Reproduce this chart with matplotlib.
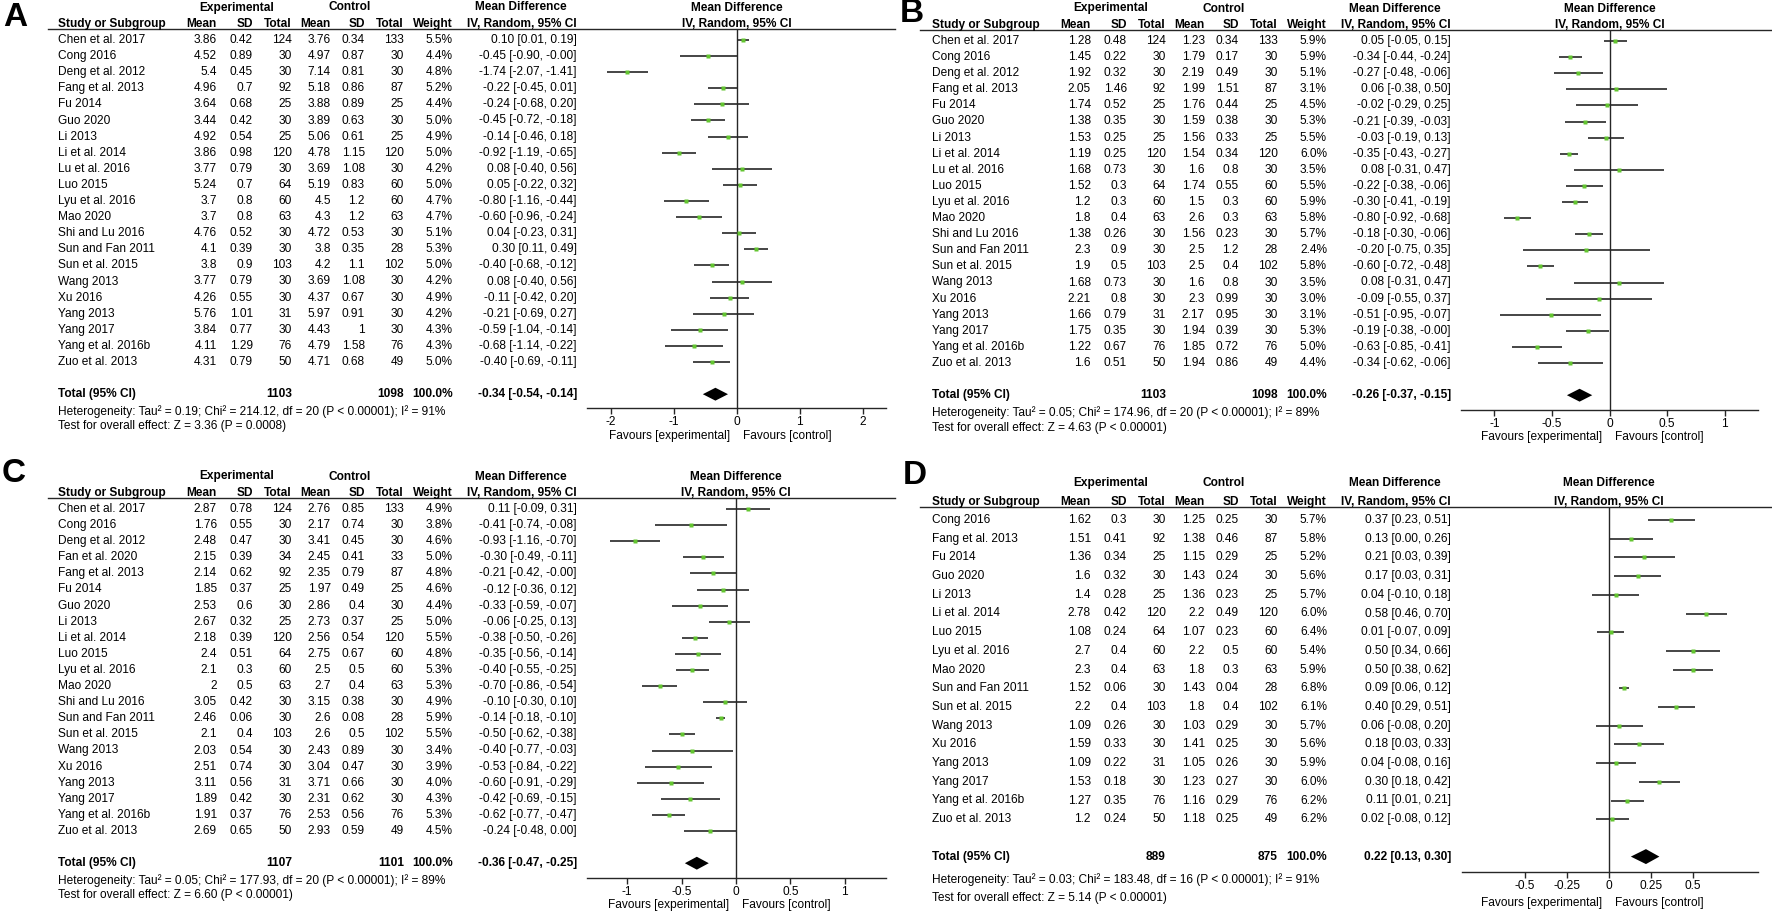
import numpy as np
import matplotlib.pyplot as plt

plt.rcParams['font.family'] = ['Liberation Sans', 'DejaVu Sans']

# ---------------- data ----------------
study_ab = ['Chen et al. 2017', 'Cong 2016', 'Deng et al. 2012', 'Fang et al. 2013', 'Fu 2014',
            'Guo 2020', 'Li 2013', 'Li et al. 2014', 'Lu et al. 2016', 'Luo 2015',
            'Lyu et al. 2016', 'Mao 2020', 'Shi and Lu 2016', 'Sun and Fan 2011',
            'Sun et al. 2015', 'Wang 2013', 'Xu 2016', 'Yang 2013', 'Yang 2017',
            'Yang et al. 2016b', 'Zuo et al. 2013']
study_c = ['Chen et al. 2017', 'Cong 2016', 'Deng et al. 2012', 'Fan et al. 2020', 'Fang et al. 2013',
           'Fu 2014', 'Guo 2020', 'Li 2013', 'Li et al. 2014', 'Luo 2015',
           'Lyu et al. 2016', 'Mao 2020', 'Shi and Lu 2016', 'Sun and Fan 2011',
           'Sun et al. 2015', 'Wang 2013', 'Xu 2016', 'Yang 2013', 'Yang 2017',
           'Yang et al. 2016b', 'Zuo et al. 2013']
study_d = ['Cong 2016', 'Fang et al. 2013', 'Fu 2014', 'Guo 2020', 'Li 2013', 'Li et al. 2014',
           'Luo 2015', 'Lyu et al. 2016', 'Mao 2020', 'Sun and Fan 2011', 'Sun et al. 2015',
           'Wang 2013', 'Xu 2016', 'Yang 2013', 'Yang 2017', 'Yang et al. 2016b', 'Zuo et al. 2013']

# panel A
a_exp_mean = [3.86, 4.52, 5.4, 4.96, 3.64, 3.44, 4.92, 3.86, 3.77, 5.24, 3.7, 3.7, 4.76, 4.1, 3.8, 3.77, 4.26, 5.76, 3.84, 4.11, 4.31]
a_exp_sd = [0.42, 0.89, 0.45, 0.7, 0.68, 0.42, 0.54, 0.98, 0.79, 0.7, 0.8, 0.8, 0.52, 0.39, 0.9, 0.79, 0.55, 1.01, 0.77, 1.29, 0.79]
a_exp_n = [124, 30, 30, 92, 25, 30, 25, 120, 30, 64, 60, 63, 30, 30, 103, 30, 30, 31, 30, 76, 50]
a_ctl_mean = [3.76, 4.97, 7.14, 5.18, 3.88, 3.89, 5.06, 4.78, 3.69, 5.19, 4.5, 4.3, 4.72, 3.8, 4.2, 3.69, 4.37, 5.97, 4.43, 4.79, 4.71]
a_ctl_sd = [0.34, 0.87, 0.81, 0.86, 0.89, 0.63, 0.61, 1.15, 1.08, 0.83, 1.2, 1.2, 0.53, 0.35, 1.1, 1.08, 0.67, 0.91, 1, 1.58, 0.68]
a_ctl_n = [133, 30, 30, 87, 25, 30, 25, 120, 30, 60, 60, 63, 30, 28, 102, 30, 30, 30, 30, 76, 49]
a_weight = [5.5, 4.4, 4.8, 5.2, 4.4, 5.0, 4.9, 5.0, 4.2, 5.0, 4.7, 4.7, 5.1, 5.3, 5.0, 4.2, 4.9, 4.2, 4.3, 4.3, 5.0]
a_md = [0.10, -0.45, -1.74, -0.22, -0.24, -0.45, -0.14, -0.92, 0.08, 0.05, -0.80, -0.60, 0.04, 0.30, -0.40, 0.08, -0.11, -0.21, -0.59, -0.68, -0.40]
a_lo = [0.01, -0.90, -2.07, -0.45, -0.68, -0.72, -0.46, -1.19, -0.40, -0.22, -1.16, -0.96, -0.23, 0.11, -0.68, -0.40, -0.42, -0.69, -1.04, -1.14, -0.69]
a_hi = [0.19, -0.004, -1.41, 0.01, 0.20, -0.18, 0.18, -0.65, 0.56, 0.32, -0.44, -0.24, 0.31, 0.49, -0.12, 0.56, 0.20, 0.27, -0.14, -0.22, -0.11]
a_total = [1103, 1098, -0.34, -0.54, -0.14]
a_het = 'Heterogeneity: Tau² = 0.19; Chi² = 214.12, df = 20 (P < 0.00001); I² = 91%'
a_test = 'Test for overall effect: Z = 3.36 (P = 0.0008)'

# panel B
b_exp_mean = [1.28, 1.45, 1.92, 2.05, 1.74, 1.38, 1.53, 1.19, 1.68, 1.52, 1.2, 1.8, 1.38, 2.3, 1.9, 1.68, 2.21, 1.66, 1.75, 1.22, 1.6]
b_exp_sd = [0.48, 0.22, 0.32, 1.46, 0.52, 0.35, 0.25, 0.25, 0.73, 0.3, 0.3, 0.4, 0.26, 0.9, 0.5, 0.73, 0.8, 0.79, 0.35, 0.67, 0.51]
b_exp_n = [124, 30, 30, 92, 25, 30, 25, 120, 30, 64, 60, 63, 30, 30, 103, 30, 30, 31, 30, 76, 50]
b_ctl_mean = [1.23, 1.79, 2.19, 1.99, 1.76, 1.59, 1.56, 1.54, 1.6, 1.74, 1.5, 2.6, 1.56, 2.5, 2.5, 1.6, 2.3, 2.17, 1.94, 1.85, 1.94]
b_ctl_sd = [0.34, 0.17, 0.49, 1.51, 0.44, 0.38, 0.33, 0.34, 0.8, 0.55, 0.3, 0.3, 0.23, 1.2, 0.4, 0.8, 0.99, 0.95, 0.39, 0.72, 0.86]
b_ctl_n = [133, 30, 30, 87, 25, 30, 25, 120, 30, 60, 60, 63, 30, 28, 102, 30, 30, 30, 30, 76, 49]
b_weight = [5.9, 5.9, 5.1, 3.1, 4.5, 5.3, 5.5, 6.0, 3.5, 5.5, 5.9, 5.8, 5.7, 2.4, 5.8, 3.5, 3.0, 3.1, 5.3, 5.0, 4.4]
b_md = [0.05, -0.34, -0.27, 0.06, -0.02, -0.21, -0.03, -0.35, 0.08, -0.22, -0.30, -0.80, -0.18, -0.20, -0.60, 0.08, -0.09, -0.51, -0.19, -0.63, -0.34]
b_lo = [-0.05, -0.44, -0.48, -0.38, -0.29, -0.39, -0.19, -0.43, -0.31, -0.38, -0.41, -0.92, -0.30, -0.75, -0.72, -0.31, -0.55, -0.95, -0.38, -0.85, -0.62]
b_hi = [0.15, -0.24, -0.06, 0.50, 0.25, -0.03, 0.13, -0.27, 0.47, -0.06, -0.19, -0.68, -0.06, 0.35, -0.48, 0.47, 0.37, -0.07, -0.004, -0.41, -0.06]
b_total = [1103, 1098, -0.26, -0.37, -0.15]
b_het = 'Heterogeneity: Tau² = 0.05; Chi² = 174.96, df = 20 (P < 0.00001); I² = 89%'
b_test = 'Test for overall effect: Z = 4.63 (P < 0.00001)'

# panel C
c_exp_mean = [2.87, 1.76, 2.48, 2.15, 2.14, 1.85, 2.53, 2.67, 2.18, 2.4, 2.1, 2, 3.05, 2.46, 2.1, 2.03, 2.51, 3.11, 1.89, 1.91, 2.69]
c_exp_sd = [0.78, 0.55, 0.47, 0.39, 0.62, 0.37, 0.6, 0.32, 0.39, 0.51, 0.3, 0.5, 0.42, 0.06, 0.4, 0.54, 0.74, 0.56, 0.42, 0.37, 0.65]
c_exp_n = [124, 30, 30, 34, 92, 25, 30, 25, 120, 64, 60, 63, 30, 30, 103, 30, 30, 31, 30, 76, 50]
c_ctl_mean = [2.76, 2.17, 3.41, 2.45, 2.35, 1.97, 2.86, 2.73, 2.56, 2.75, 2.5, 2.7, 3.15, 2.6, 2.6, 2.43, 3.04, 3.71, 2.31, 2.53, 2.93]
c_ctl_sd = [0.85, 0.74, 0.45, 0.41, 0.79, 0.49, 0.4, 0.37, 0.54, 0.67, 0.5, 0.4, 0.38, 0.08, 0.5, 0.89, 0.47, 0.66, 0.62, 0.56, 0.59]
c_ctl_n = [133, 30, 30, 33, 87, 25, 30, 25, 120, 60, 60, 63, 30, 28, 102, 30, 30, 30, 30, 76, 49]
c_weight = [4.9, 3.8, 4.6, 5.0, 4.8, 4.6, 4.4, 5.0, 5.5, 4.8, 5.3, 5.3, 4.9, 5.9, 5.5, 3.4, 3.9, 4.0, 4.3, 5.3, 4.5]
c_md = [0.11, -0.41, -0.93, -0.30, -0.21, -0.12, -0.33, -0.06, -0.38, -0.35, -0.40, -0.70, -0.10, -0.14, -0.50, -0.40, -0.53, -0.60, -0.42, -0.62, -0.24]
c_lo = [-0.09, -0.74, -1.16, -0.49, -0.42, -0.36, -0.59, -0.25, -0.50, -0.56, -0.55, -0.86, -0.30, -0.18, -0.62, -0.77, -0.84, -0.91, -0.69, -0.77, -0.48]
c_hi = [0.31, -0.08, -0.70, -0.11, -0.004, 0.12, -0.07, 0.13, -0.26, -0.14, -0.25, -0.54, 0.10, -0.10, -0.38, -0.03, -0.22, -0.29, -0.15, -0.47, 0.00]
c_total = [1107, 1101, -0.36, -0.47, -0.25]
c_het = 'Heterogeneity: Tau² = 0.05; Chi² = 177.93, df = 20 (P < 0.00001); I² = 89%'
c_test = 'Test for overall effect: Z = 6.60 (P < 0.00001)'

# panel D
d_exp_mean = [1.62, 1.51, 1.36, 1.6, 1.4, 2.78, 1.08, 2.7, 2.3, 1.52, 2.2, 1.09, 1.59, 1.09, 1.53, 1.27, 1.2]
d_exp_sd = [0.3, 0.41, 0.34, 0.32, 0.28, 0.42, 0.24, 0.4, 0.4, 0.06, 0.4, 0.26, 0.33, 0.22, 0.18, 0.35, 0.24]
d_exp_n = [30, 92, 25, 30, 25, 120, 64, 60, 63, 30, 103, 30, 30, 31, 30, 76, 50]
d_ctl_mean = [1.25, 1.38, 1.15, 1.43, 1.36, 2.2, 1.07, 2.2, 1.8, 1.43, 1.8, 1.03, 1.41, 1.05, 1.23, 1.16, 1.18]
d_ctl_sd = [0.25, 0.46, 0.29, 0.24, 0.23, 0.49, 0.23, 0.5, 0.3, 0.04, 0.4, 0.29, 0.25, 0.26, 0.27, 0.29, 0.25]
d_ctl_n = [30, 87, 25, 30, 25, 120, 60, 60, 63, 28, 102, 30, 30, 30, 30, 76, 49]
d_weight = [5.7, 5.8, 5.2, 5.6, 5.7, 6.0, 6.4, 5.4, 5.9, 6.8, 6.1, 5.7, 5.6, 5.9, 6.0, 6.2, 6.2]
d_md = [0.37, 0.13, 0.21, 0.17, 0.04, 0.58, 0.01, 0.50, 0.50, 0.09, 0.40, 0.06, 0.18, 0.04, 0.30, 0.11, 0.02]
d_lo = [0.23, 0.00, 0.03, 0.03, -0.10, 0.46, -0.07, 0.34, 0.38, 0.06, 0.29, -0.08, 0.03, -0.08, 0.18, 0.01, -0.08]
d_hi = [0.51, 0.26, 0.39, 0.31, 0.18, 0.70, 0.09, 0.66, 0.62, 0.12, 0.51, 0.20, 0.33, 0.16, 0.42, 0.21, 0.12]
d_total = [889, 875, 0.22, 0.13, 0.30]
d_het = 'Heterogeneity: Tau² = 0.03; Chi² = 183.48, df = 16 (P < 0.00001); I² = 91%'
d_test = 'Test for overall effect: Z = 5.14 (P < 0.00001)'

# ---------------- layout ----------------
W, H = 1772, 914
FS = 8.6
LINE = '#262626'
GREEN = '#63c530'

fig = plt.figure(figsize=(W / 100, H / 100), dpi=100)
canvas = fig.add_axes([0, 0, 1, 1])
canvas.set_xlim(0, W)
canvas.set_ylim(H, 0)
canvas.axis('off')


def fmt(v):
    return f'{v:g}'


def draw_panel(lay, study, em, es, en, cm, cs, cn, wt, md, lo, hi, tot, het, test):
    ox, head, first, step = lay['ox'], lay['head'], lay['first'], lay['step']
    n = len(study)
    rows = first + step * np.arange(n)
    ytot = first + step * (n + 1)

    canvas.text(*lay['letter_xy'], lay['letter'], fontsize=24, fontweight='bold',
                ha='center', va='center')

    # column headers
    b2 = head - 2
    b1 = b2 - lay['gap']
    hb = dict(fontsize=FS, fontweight='bold', va='baseline')
    canvas.text(ox + 237, b1, 'Experimental', ha='center', **hb)
    canvas.text(ox + 350, b1, 'Control', ha='center', **hb)
    canvas.text(ox + 521, b1, 'Mean Difference', ha='center', **hb)
    canvas.text(ox + 58, b2, 'Study or Subgroup', ha='left', **hb)
    cols = [217, 253, 292, 331, 365, 404, 453, 577]
    names = ['Mean', 'SD', 'Total', 'Mean', 'SD', 'Total', 'Weight', 'IV, Random, 95% CI']
    for x, s in zip(cols, names):
        canvas.text(ox + x, b2, s, ha='right', **hb)
    canvas.plot([ox + lay['line0'], lay['line1']], [head, head], color=LINE, lw=1)

    # study rows
    for i in range(n):
        vals = [fmt(em[i]), fmt(es[i]), str(en[i]), fmt(cm[i]), fmt(cs[i]), str(cn[i]),
                f'{wt[i]:.1f}%', f'{md[i]:.2f} [{lo[i]:.2f}, {hi[i]:.2f}]']
        canvas.text(ox + 58, rows[i], study[i], ha='left', va='center', fontsize=FS)
        for x, v in zip(cols, vals):
            canvas.text(ox + x, rows[i], v, ha='right', va='center', fontsize=FS)

    # total row
    tb = dict(fontsize=FS, fontweight='bold', va='center', ha='right')
    canvas.text(ox + 58, ytot, 'Total (95% CI)', fontsize=FS, fontweight='bold', va='center', ha='left')
    canvas.text(ox + cols[2], ytot, str(tot[0]), **tb)
    canvas.text(ox + cols[5], ytot, str(tot[1]), **tb)
    canvas.text(ox + cols[6], ytot, '100.0%', **tb)
    canvas.text(ox + cols[7], ytot, f'{tot[2]:.2f} [{tot[3]:.2f}, {tot[4]:.2f}]', **tb)
    canvas.text(ox + 58, ytot + lay['het_dy'][0], het, fontsize=FS, va='center', ha='left')
    canvas.text(ox + 58, ytot + lay['het_dy'][1], test, fontsize=FS, va='center', ha='left')

    # forest plot
    x0, x1 = lay['px']
    axis_y = lay['axis']
    ax = fig.add_axes([x0 / W, 1 - axis_y / H, (x1 - x0) / W, (axis_y - head) / H])
    ax.patch.set_visible(False)
    ax.set_xlim(*lay['xlim'])
    ax.set_ylim((axis_y - first) / step, (head - first) / step)
    idx = np.arange(n)
    ax.axvline(0, color=LINE, lw=1)
    ax.hlines(idx, lo, hi, color=LINE, lw=1.2)
    ax.plot(md, idx, 's', color=GREEN, ms=2.8, mec='none')
    h = 0.4
    ax.fill([tot[3], tot[2], tot[4], tot[2]], [n + 1, n + 1 - h, n + 1, n + 1 + h],
            color='black', lw=0)
    for sp in ['top', 'left', 'right']:
        ax.spines[sp].set_visible(False)
    ax.spines['bottom'].set_color(LINE)
    ax.spines['bottom'].set_linewidth(1)
    ax.set_yticks([])
    ax.set_xticks(lay['ticks'])
    ax.set_xticklabels([fmt(t) for t in lay['ticks']])
    ax.tick_params(axis='x', direction='out', length=4.5, width=1, color=LINE,
                   labelsize=FS, pad=1.5)

    hdr = dict(xycoords=('data', 'axes fraction'), textcoords='offset points',
               ha='center', va='baseline', fontsize=FS, fontweight='bold')
    ax.annotate('IV, Random, 95% CI', xy=(0, 1), xytext=(0, 2 / 1.389), **hdr)
    ax.annotate('Mean Difference', xy=(0, 1), xytext=(0, (2 + lay['gap']) / 1.389), **hdr)
    fav = dict(xycoords=('data', 'axes fraction'), textcoords='offset points',
               va='center', fontsize=FS)
    ax.annotate('Favours [experimental]', xy=(0, 0), xytext=(-5, -lay['fav_dy'] / 1.389),
                ha='right', **fav)
    ax.annotate('Favours [control]', xy=(0, 0), xytext=(4.3, -lay['fav_dy'] / 1.389),
                ha='left', **fav)


lay_a = dict(letter='A', letter_xy=(15, 18), ox=0, head=29, gap=16.5, first=40, step=16.1,
             axis=408, px=(587, 886), xlim=(-2.38, 2.37), ticks=[-2, -1, 0, 1, 2],
             line0=48, line1=895, het_dy=(17, 32), fav_dy=28)
lay_b = dict(letter='B', letter_xy=(912, 14), ox=874, head=30, gap=16.5, first=41, step=16.1,
             axis=410, px=(1461, 1758), xlim=(-1.29, 1.29), ticks=[-1, -0.5, 0, 0.5, 1],
             line0=46, line1=W, het_dy=(17, 33), fav_dy=27)
lay_c = dict(letter='C', letter_xy=(14, 473), ox=0, head=498, gap=16.5, first=509, step=16.1,
             axis=878, px=(587, 886), xlim=(-1.37, 1.38), ticks=[-1, -0.5, 0, 0.5, 1],
             line0=48, line1=895, het_dy=(17, 32), fav_dy=27)
lay_d = dict(letter='D', letter_xy=(915, 476), ox=874, head=507, gap=19, first=520, step=18.7,
             axis=872, px=(1462, 1758), xlim=(-0.875, 0.887), ticks=[-0.5, -0.25, 0, 0.25, 0.5],
             line0=46, line1=W, het_dy=(23, 41), fav_dy=31)

draw_panel(lay_a, study_ab, a_exp_mean, a_exp_sd, a_exp_n, a_ctl_mean, a_ctl_sd, a_ctl_n,
           a_weight, a_md, a_lo, a_hi, a_total, a_het, a_test)
draw_panel(lay_b, study_ab, b_exp_mean, b_exp_sd, b_exp_n, b_ctl_mean, b_ctl_sd, b_ctl_n,
           b_weight, b_md, b_lo, b_hi, b_total, b_het, b_test)
draw_panel(lay_c, study_c, c_exp_mean, c_exp_sd, c_exp_n, c_ctl_mean, c_ctl_sd, c_ctl_n,
           c_weight, c_md, c_lo, c_hi, c_total, c_het, c_test)
draw_panel(lay_d, study_d, d_exp_mean, d_exp_sd, d_exp_n, d_ctl_mean, d_ctl_sd, d_ctl_n,
           d_weight, d_md, d_lo, d_hi, d_total, d_het, d_test)

fig.savefig('out.png', dpi=100)
